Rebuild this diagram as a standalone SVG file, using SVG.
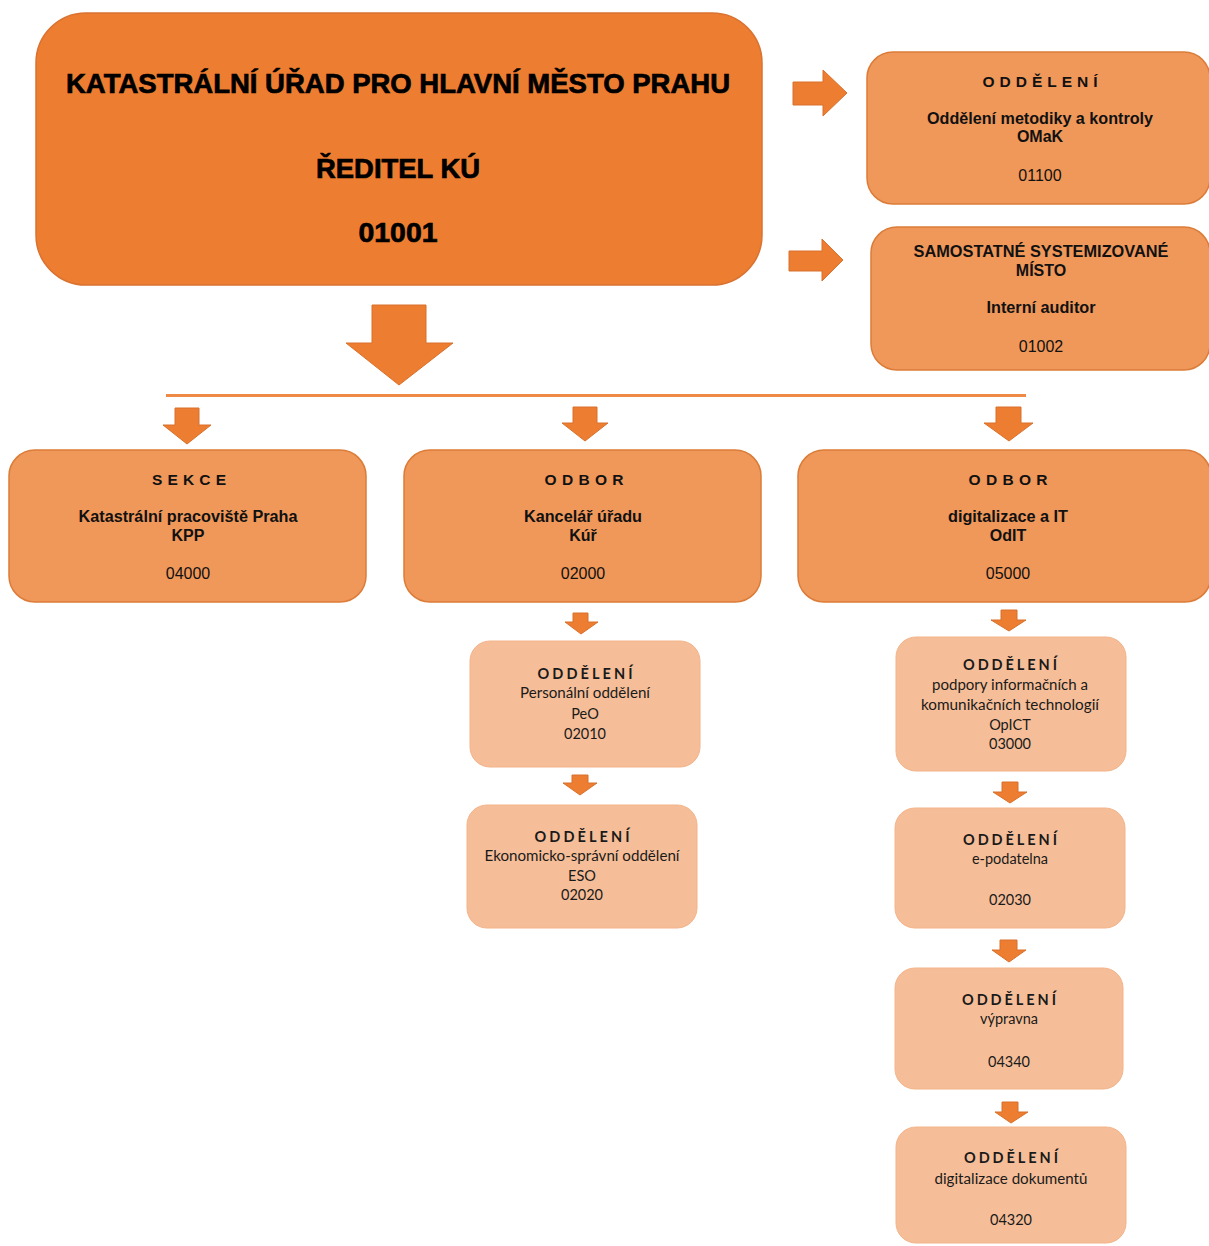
<svg xmlns="http://www.w3.org/2000/svg" width="1209" height="1246" viewBox="0 0 1209 1246">
<style>
.main{fill:#ED7D31;stroke:#DA7230;stroke-width:1.5}
.l2{fill:#F0975A;stroke:#DB7C38;stroke-width:1.5}
.l3{fill:#F6BE98;stroke:#F3B48A;stroke-width:1}
.arr{fill:#ED7D31;stroke:#D9712C;stroke-width:1}
.t1{font-family:"Liberation Sans",Arial,sans-serif;font-weight:bold;font-size:27px;fill:#000;stroke:#000;stroke-width:0.7;text-anchor:middle}
.h2{font-family:"Liberation Sans",Arial,sans-serif;font-weight:bold;font-size:15.5px;fill:#111;text-anchor:middle}
.b2{font-family:"Liberation Sans",Arial,sans-serif;font-weight:bold;font-size:16px;fill:#111;text-anchor:middle}
.n2{font-family:"Liberation Sans",Arial,sans-serif;font-size:16px;fill:#111;text-anchor:middle}
.h3{font-family:Lato,"Open Sans",sans-serif;font-weight:bold;font-size:14.5px;fill:#1a1a1a;text-anchor:middle}
.n3{font-family:Lato,"Open Sans",sans-serif;font-size:14.5px;fill:#1a1a1a;text-anchor:middle}
</style>
<rect width="1209" height="1246" fill="#fff"/>

<g id="connectors">
  <path class="arr" d="M372,305 H426 V343 H453 L399,385 L346,343 H372 Z"/>
  <line x1="166" y1="395.5" x2="1026" y2="395.5" stroke="#EE8A45" stroke-width="3"/>
  <path class="arr" d="M793,82 H823 V70 L847,93 L823,116 V105 H793 Z"/>
  <path class="arr" d="M789,251 H822 V239 L843,260 L822,281 V271 H789 Z"/>
  <path class="arr" d="M175,408 H199 V425 H211 L187,444 L163,425 H175 Z"/>
  <path class="arr" d="M573,407 H597 V423 H608 L585,441 L562,423 H573 Z"/>
  <path class="arr" d="M996,407 H1021 V423 H1033 L1009,441 L984,423 H996 Z"/>
  <path class="arr" d="M573,613 H588 V622 H598 L581,634 L565,622 H573 Z"/>
  <path class="arr" d="M572,775 H588 V783 H597 L580,795 L563,783 H572 Z"/>
  <path class="arr" d="M1001,610 H1017 V620 H1026 L1009,631 L991,620 H1001 Z"/>
  <path class="arr" d="M1002,782 H1018 V792 H1027 L1010,803 L993,792 H1002 Z"/>
  <path class="arr" d="M1000,940 H1017 V950 H1026 L1009,962 L992,950 H1000 Z"/>
  <path class="arr" d="M1002,1102 H1018 V1112 H1028 L1011,1123 L995,1112 H1002 Z"/>
</g>

<g id="node-reditel">
  <rect class="main" x="36" y="13" width="726" height="272" rx="50"/>
  <text class="t1" x="398" y="93" textLength="664" lengthAdjust="spacingAndGlyphs">KATASTRÁLNÍ ÚŘAD PRO HLAVNÍ MĚSTO PRAHU</text>
  <text class="t1" x="398" y="178" textLength="164" lengthAdjust="spacingAndGlyphs">ŘEDITEL KÚ</text>
  <text class="t1" x="398" y="242" textLength="79" lengthAdjust="spacingAndGlyphs">01001</text>
</g>

<g id="node-omak">
  <rect class="l2" x="867" y="52" width="343" height="152" rx="26"/>
  <text class="h2" x="1040" y="87" textLength="115" lengthAdjust="spacing">ODDĚLENÍ</text>
  <text class="b2" x="1040" y="124" textLength="226" lengthAdjust="spacingAndGlyphs">Oddělení metodiky a kontroly</text>
  <text class="b2" x="1040" y="142">OMaK</text>
  <text class="n2" x="1040" y="181">01100</text>
</g>

<g id="node-auditor">
  <rect class="l2" x="871" y="227" width="339" height="143" rx="26"/>
  <text class="b2" x="1041" y="257" textLength="255" lengthAdjust="spacingAndGlyphs">SAMOSTATNÉ SYSTEMIZOVANÉ</text>
  <text class="b2" x="1041" y="276">MÍSTO</text>
  <text class="b2" x="1041" y="313" textLength="109" lengthAdjust="spacingAndGlyphs">Interní auditor</text>
  <text class="n2" x="1041" y="352">01002</text>
</g>

<g id="node-kpp">
  <rect class="l2" x="9" y="450" width="357" height="152" rx="26"/>
  <text class="h2" x="189" y="485" textLength="74" lengthAdjust="spacing">SEKCE</text>
  <text class="b2" x="188" y="522" textLength="219" lengthAdjust="spacingAndGlyphs">Katastrální pracoviště Praha</text>
  <text class="b2" x="188" y="541">KPP</text>
  <text class="n2" x="188" y="579">04000</text>
</g>

<g id="node-kur">
  <rect class="l2" x="404" y="450" width="357" height="152" rx="26"/>
  <text class="h2" x="584" y="485" textLength="79" lengthAdjust="spacing">ODBOR</text>
  <text class="b2" x="583" y="522" textLength="118" lengthAdjust="spacingAndGlyphs">Kancelář úřadu</text>
  <text class="b2" x="583" y="541">Kúř</text>
  <text class="n2" x="583" y="579">02000</text>
</g>

<g id="node-odit">
  <rect class="l2" x="798" y="450" width="413" height="152" rx="26"/>
  <text class="h2" x="1008" y="485" textLength="79" lengthAdjust="spacing">ODBOR</text>
  <text class="b2" x="1008" y="522" textLength="120" lengthAdjust="spacingAndGlyphs">digitalizace a IT</text>
  <text class="b2" x="1008" y="541">OdIT</text>
  <text class="n2" x="1008" y="579">05000</text>
</g>

<g id="node-peo">
  <rect class="l3" x="470" y="641" width="230" height="126" rx="20"/>
  <text class="h3" x="585" y="679" textLength="95" lengthAdjust="spacing">ODDĚLENÍ</text>
  <text class="n3" x="585" y="698" textLength="130" lengthAdjust="spacingAndGlyphs">Personální oddělení</text>
  <text class="n3" x="585" y="719">PeO</text>
  <text class="n3" x="585" y="739">02010</text>
</g>

<g id="node-eso">
  <rect class="l3" x="467" y="805" width="230" height="123" rx="20"/>
  <text class="h3" x="582" y="842" textLength="95" lengthAdjust="spacing">ODDĚLENÍ</text>
  <text class="n3" x="582" y="861" textLength="195" lengthAdjust="spacingAndGlyphs">Ekonomicko-správní oddělení</text>
  <text class="n3" x="582" y="881">ESO</text>
  <text class="n3" x="582" y="900">02020</text>
</g>

<g id="node-opict">
  <rect class="l3" x="896" y="637" width="230" height="134" rx="20"/>
  <text class="h3" x="1010" y="670" textLength="94" lengthAdjust="spacing">ODDĚLENÍ</text>
  <text class="n3" x="1010" y="690" textLength="156" lengthAdjust="spacingAndGlyphs">podpory informačních a</text>
  <text class="n3" x="1010" y="710" textLength="178" lengthAdjust="spacingAndGlyphs">komunikačních technologií</text>
  <text class="n3" x="1010" y="730">OpICT</text>
  <text class="n3" x="1010" y="749">03000</text>
</g>

<g id="node-epodatelna">
  <rect class="l3" x="895" y="808" width="230" height="120" rx="20"/>
  <text class="h3" x="1010" y="845" textLength="94" lengthAdjust="spacing">ODDĚLENÍ</text>
  <text class="n3" x="1010" y="864">e-podatelna</text>
  <text class="n3" x="1010" y="905">02030</text>
</g>

<g id="node-vypravna">
  <rect class="l3" x="895" y="968" width="228" height="121" rx="20"/>
  <text class="h3" x="1009" y="1005" textLength="94" lengthAdjust="spacing">ODDĚLENÍ</text>
  <text class="n3" x="1009" y="1024">výpravna</text>
  <text class="n3" x="1009" y="1067">04340</text>
</g>

<g id="node-digdok">
  <rect class="l3" x="896" y="1127" width="230" height="116" rx="20"/>
  <text class="h3" x="1011" y="1163" textLength="94" lengthAdjust="spacing">ODDĚLENÍ</text>
  <text class="n3" x="1011" y="1184" textLength="153" lengthAdjust="spacingAndGlyphs">digitalizace dokumentů</text>
  <text class="n3" x="1011" y="1225">04320</text>
</g>
</svg>
